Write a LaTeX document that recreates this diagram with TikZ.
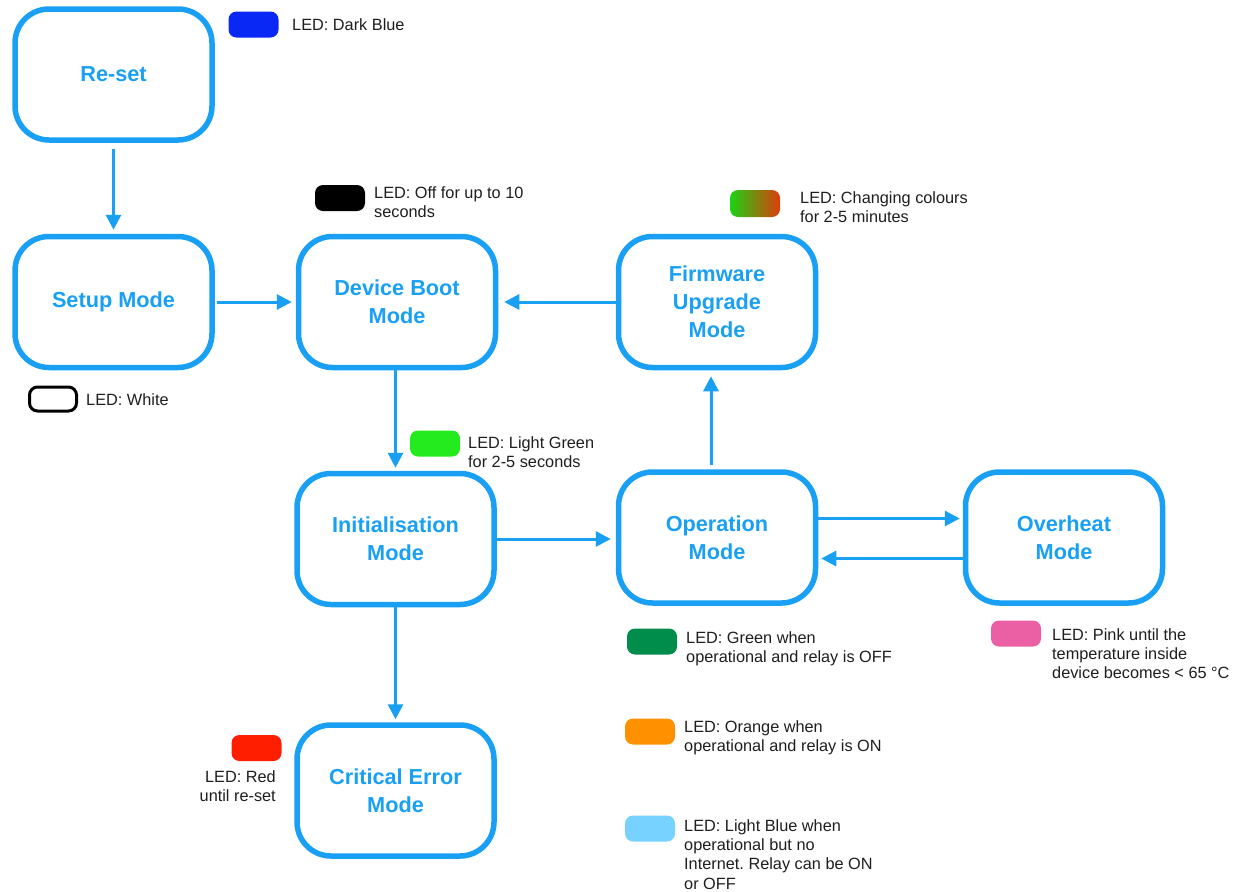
\documentclass[tikz,border=0pt]{standalone}
\usepackage{fontspec}
\setmainfont{Liberation Sans}
\frenchspacing
\usetikzlibrary{arrows.meta,calc}
\definecolor{cblue}{RGB}{25,160,245}
\definecolor{ledDarkBlue}{RGB}{10,40,245}
\definecolor{ledLightGreen}{RGB}{35,235,30}
\definecolor{ledGreen}{RGB}{0,140,75}
\definecolor{ledOrange}{RGB}{255,145,0}
\definecolor{ledLightBlue}{RGB}{120,210,255}
\definecolor{ledPink}{RGB}{235,95,165}
\definecolor{ledRed}{RGB}{255,30,0}
\definecolor{gradA}{RGB}{30,210,20}
\definecolor{gradB}{RGB}{220,60,10}
\definecolor{txt}{RGB}{30,30,30}
\tikzset{
  modebox/.style={draw=cblue, line width=5.5pt, rounded corners=34pt,
    minimum width=197pt, minimum height=131pt, align=center,
    text=cblue, font=\fontsize{21.7}{28}\selectfont\bfseries, inner sep=0pt},
  swatch/.style={rounded corners=8pt, minimum width=50pt, minimum height=26pt, inner sep=0pt},
  ledtext/.style={text=txt, font=\fontsize{16.3}{19.3}\selectfont\frenchspacing, align=left, anchor=west, inner sep=0pt},
  flow/.style={draw=cblue, line width=3pt, -{Triangle[length=15pt,width=15pt]}}
}
\begin{document}
\begin{tikzpicture}[x=1pt,y=-1pt]
\useasboundingbox (0,0) rectangle (1243,892);
% mode boxes
\node[modebox] (reset) at (113.5,74.5) {Re-set};
\node[modebox] (setup) at (113.5,302) {Setup Mode};
\node[modebox] (boot) at (397,302) {Device Boot\\Mode};
\node[modebox] (fw) at (717,302) {Firmware\\Upgrade\\Mode};
\node[modebox] (init) at (395.5,539) {Initialisation\\Mode};
\node[modebox] (op) at (717,537.5) {Operation\\Mode};
\node[modebox] (oh) at (1064,537.5) {Overheat\\Mode};
\node[modebox] (crit) at (395.5,790.5) {Critical Error\\Mode};
% connectors
\draw[flow, shorten <=6pt, shorten >=4pt] (reset.south) -- (setup.north);
\draw[flow, shorten <=2pt, shorten >=4pt] (setup.east) -- (boot.west);
\draw[flow, shorten <=0pt, shorten >=6pt] (fw.west) -- (boot.east);
\draw[flow, shorten <=0pt, shorten >=3pt] (boot.south -| init.north) -- (init.north);
\draw[flow, shorten <=0pt, shorten >=5pt] (init.east) -- (init.east -| op.west);
\draw[flow, shorten <=4pt, shorten >=6pt] ([xshift=-6pt]op.north) -- ([xshift=-6pt]fw.south);
\draw[flow, shorten <=0pt, shorten >=3pt] ([yshift=19pt]op.east) -- ([yshift=19pt]oh.west);
\draw[flow, shorten <=0pt, shorten >=3pt] ([yshift=-21pt]oh.west) -- ([yshift=-21pt]op.east);
\draw[flow, shorten <=0pt, shorten >=3pt] (init.south) -- (crit.north);
% LED swatches
\node[swatch, fill=ledDarkBlue] (swDB) at (253.5,24.5) {};
\node[swatch, fill=black] (swOff) at (340,198) {};
\shade[rounded corners=8pt, left color=gradA, right color=gradB] (730,190) rectangle (780,217);
\coordinate (swFW) at (755,203.5);
\node[swatch, draw=black, line width=3pt, minimum width=47pt, minimum height=24pt] (swW) at (53,399) {};
\node[swatch, fill=ledLightGreen] (swLG) at (435,443.5) {};
\node[swatch, fill=ledGreen] (swG) at (652,641.5) {};
\node[swatch, fill=ledOrange] (swO) at (650,731.5) {};
\node[swatch, fill=ledLightBlue] (swLB) at (650,828.5) {};
\node[swatch, fill=ledPink] (swP) at (1016,633.5) {};
\node[swatch, fill=ledRed] (swR) at (256.5,748) {};
% LED texts
\node[ledtext] (tDB) at (292,25) {LED: Dark Blue};
\node[ledtext] (tOff) at (374,202.5) {LED: Off for up to 10\\seconds};
\node[ledtext] (tFW) at (800,207.5) {LED: Changing colours\\for 2-5 minutes};
\node[ledtext] (tW) at (86,400) {LED: White};
\node[ledtext] (tLG) at (468,452) {LED: Light Green\\for 2-5 seconds};
\node[ledtext] (tG) at (686,649) {LED: Green when\\operational and relay is OFF};
\node[ledtext] (tO) at (684,737.5) {LED: Orange when\\operational and relay is ON};
\node[ledtext] (tLB) at (684,854.5) {LED: Light Blue when\\operational but no\\Internet. Relay can be ON\\or OFF};
\node[ledtext] (tP) at (1052,653.5) {LED: Pink until the\\temperature inside\\device becomes < 65 °C};
\node[ledtext, anchor=east, align=right] (tR) at (276,786.5) {LED: Red\\until re-set};
\end{tikzpicture}
\end{document}
